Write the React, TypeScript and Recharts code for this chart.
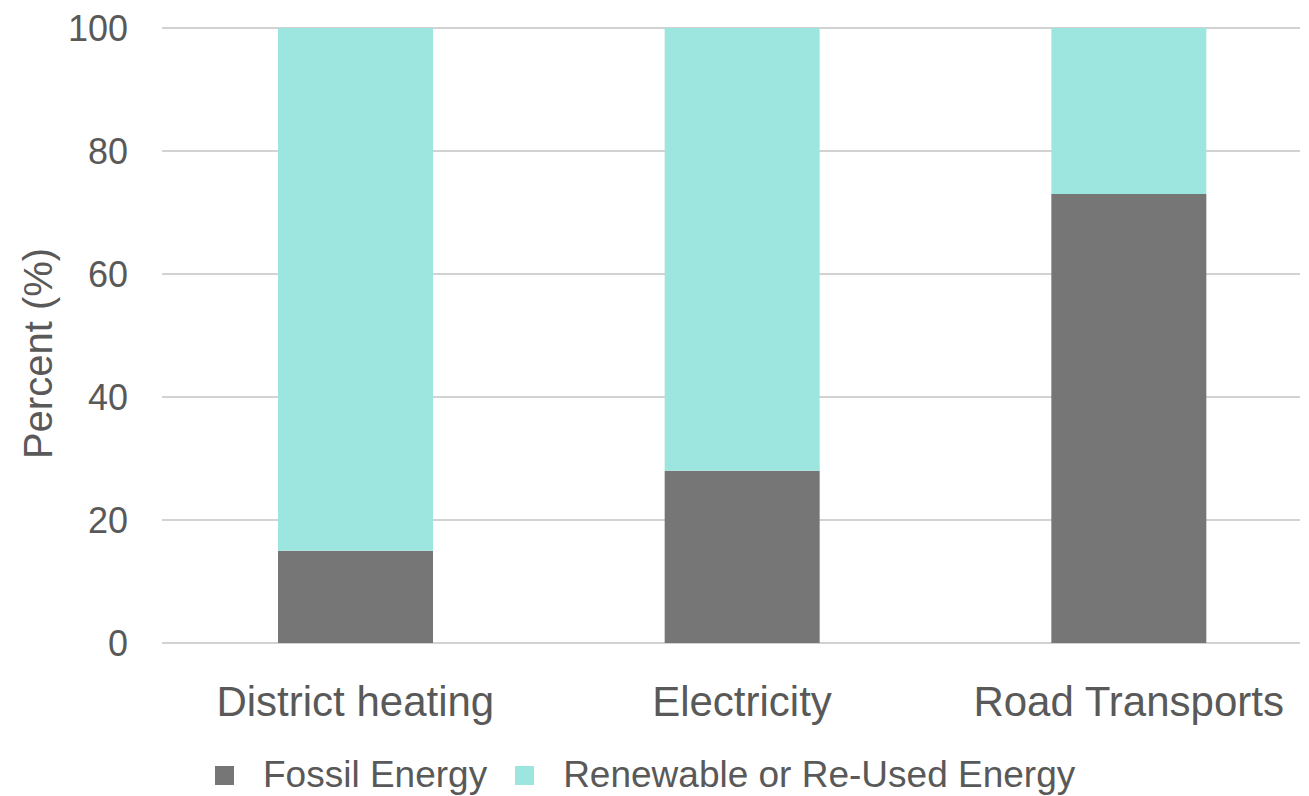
import { Bar, BarChart, CartesianGrid, Legend, XAxis, YAxis } from "recharts";

const sectors = ["District heating", "Electricity", "Road Transports"];
const fossil = [15, 28, 73];
const renewable = [85, 72, 27];
const yTicks = [0, 20, 40, 60, 80, 100];

const data = sectors.map((name, i) => ({
  name,
  fossil: fossil[i],
  renewable: renewable[i],
}));

const textColor = "#595959";
const font = "Liberation Sans, Arial, sans-serif";

function LegendRow({ payload }: any) {
  return (
    <div
      style={{
        display: "flex",
        alignItems: "center",
        paddingLeft: 215,
        height: 40,
        fontFamily: font,
        fontSize: 37,
        color: textColor,
      }}
    >
      {(payload || []).map((p: any) => (
        <div key={p.value} style={{ display: "flex", alignItems: "center", marginRight: 28 }}>
          <span
            style={{
              display: "inline-block",
              width: 19,
              height: 19,
              background: p.color,
              marginRight: 29,
            }}
          />
          <span>{p.value}</span>
        </div>
      ))}
    </div>
  );
}

// rotated axis title drawn from the y-axis viewBox so it sits where the original does
function YTitle({ viewBox }: any) {
  const x = 38;
  const y = viewBox.y + viewBox.height / 2 + 18;
  return (
    <text
      x={x}
      y={y}
      transform={`rotate(-90, ${x}, ${y})`}
      textAnchor="middle"
      dominantBaseline="central"
      fill={textColor}
      fontSize={40}
      fontFamily={font}
    >
      Percent (%)
    </text>
  );
}

export default function App() {
  return (
    <div style={{ position: "absolute", left: 0, top: 0 }}>
      <BarChart
        width={1309}
        height={796}
        data={data}
        barCategoryGap="30%"
        margin={{ top: 28, right: 9, bottom: 123, left: 0 }}
      >
        <CartesianGrid vertical={false} stroke="#d2d2d2" strokeWidth={2} />
        <XAxis
          dataKey="name"
          axisLine={false}
          tickLine={false}
          height={30}
          padding={{ left: 0, right: -22 }}
          tick={{ fill: textColor, fontSize: 42, fontFamily: font }}
          tickMargin={37}
          interval={0}
        />
        <YAxis
          domain={[0, 100]}
          ticks={yTicks}
          axisLine={false}
          tickLine={false}
          width={162}
          tickMargin={28}
          tick={{ fill: textColor, fontSize: 36, fontFamily: font }}
          label={{ content: <YTitle /> }}
        />
        <Legend
          verticalAlign="bottom"
          wrapperStyle={{
            position: "absolute",
            top: 755,
            bottom: "auto",
            left: 0,
            width: 1309,
            height: 0,
            overflow: "visible",
          }}
          content={<LegendRow />}
        />
        <Bar dataKey="fossil" name="Fossil Energy" stackId="a" fill="#767676" isAnimationActive={false} />
        <Bar
          dataKey="renewable"
          name="Renewable or Re-Used Energy"
          stackId="a"
          fill="#9ce6df"
          isAnimationActive={false}
        />
      </BarChart>
    </div>
  );
}
